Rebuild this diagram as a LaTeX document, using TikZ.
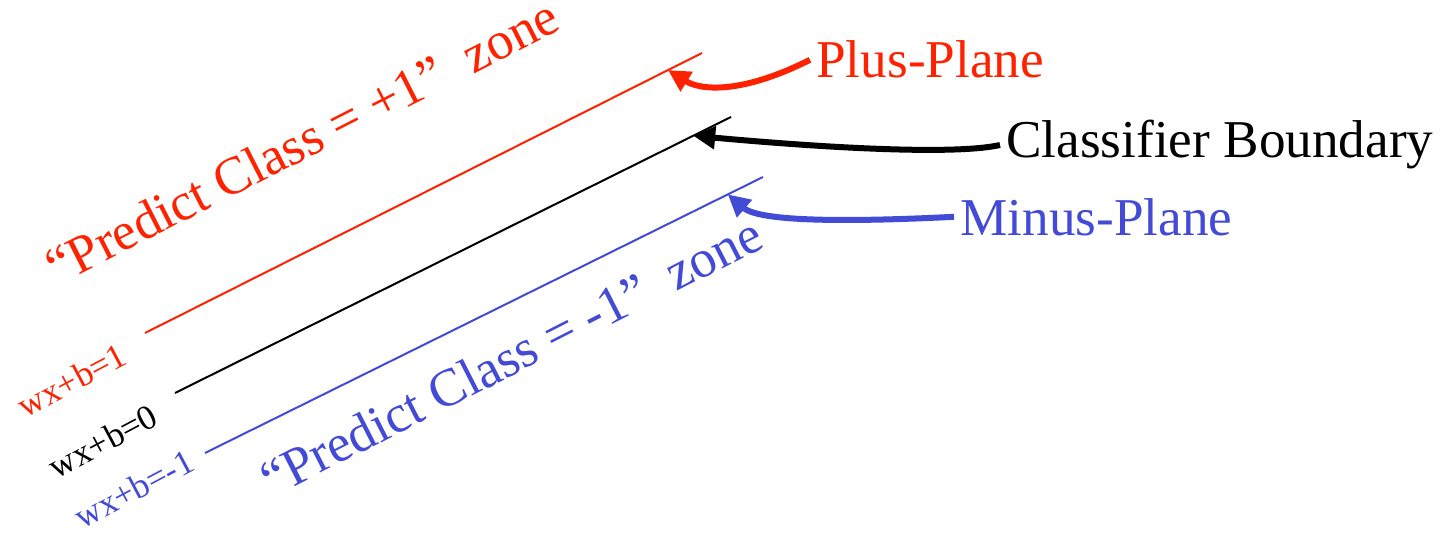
\documentclass[tikz,border=0pt]{standalone}
\usepackage{fontspec}
\setmainfont{Liberation Serif}
\usetikzlibrary{arrows.meta}
\definecolor{planered}{RGB}{255,34,0}
\definecolor{planeblue}{RGB}{66,74,214}
\tikzstyle{plane} = [line width=1pt]
\tikzstyle{bigtext} = [inner sep=0pt, font=\fontsize{26.6}{30}\selectfont]
\tikzstyle{eqtext} = [inner sep=0pt, rotate=28, font=\fontsize{17.5}{20}\selectfont]
\tikzstyle{pointer} = [line width=3pt, -{Triangle[length=11pt, width=11pt]}]

\begin{document}
\begin{tikzpicture}[x=0.5pt, y=-0.5pt]
    \useasboundingbox (0,0) rectangle (1453,535);
    % the three planes
    \draw[plane, planered] (145,333) -- coordinate[pos=0.939] (pp) (702,53);
    \draw[plane, black] (175,393) -- coordinate[pos=0.932] (bp) (731,117);
    \draw[plane, planeblue] (205,453) -- coordinate[pos=0.937] (mp) (763,177);
    % plane names
    \node[bigtext, planered, anchor=base west] (plus) at (816,78) {Plus-Plane};
    \node[bigtext, black, anchor=base west] (bound) at (1006,158) {Classifier Boundary};
    \node[bigtext, planeblue, anchor=base west] (minus) at (960,235) {Minus-Plane};
    % zones
    \node[bigtext, planered, rotate=27] (zoneplus) at (302,141) {``Predict Class = +1''\ \ zone};
    \node[bigtext, planeblue, rotate=27] (zoneminus) at (511,356) {``Predict Class = -1''\ \ zone};
    % equations
    \node[eqtext, planered] (eqplus) at (72,380) {wx+b=1};
    \node[eqtext, black] (eqzero) at (103,441) {wx+b=0};
    \node[eqtext, planeblue] (eqminus) at (134,489) {wx+b=-1};
    % pointers
    \draw[pointer, planered] ([xshift=-3pt]plus.west) .. controls (740,95) and (700,90) .. (pp);
    \draw[pointer, black] ([xshift=-3pt]bound.west) .. controls (960,154) and (850,150) .. (bp);
    \draw[pointer, planeblue] ([xshift=-3pt]minus.west) .. controls (850,222) and (760,222) .. (mp);
\end{tikzpicture}
\end{document}
